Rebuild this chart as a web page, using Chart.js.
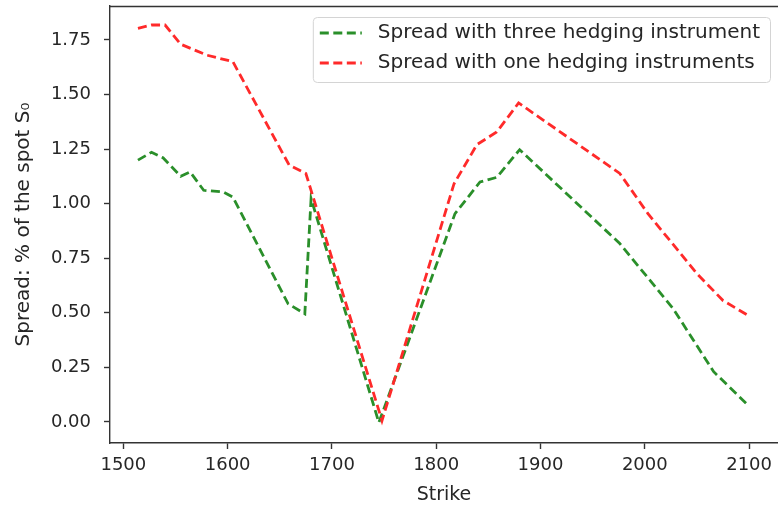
<!DOCTYPE html>
<html><head><meta charset="utf-8">
<script src="https://cdn.jsdelivr.net/npm/chart.js@4.4.0/dist/chart.umd.min.js"></script>
<style>html,body{margin:0;padding:0;background:#fff;}#wrap{width:778px;height:509px;position:relative;}</style>
</head><body><div id="wrap"><canvas id="c"></canvas></div>
<script>
// ---- data ----
const strikesThree = [1514, 1527, 1538, 1555, 1564, 1577, 1596, 1605, 1658, 1674, 1680, 1745, 1818, 1842, 1858, 1880, 1976, 2027, 2066, 2100];
const spreadThree  = [1.199, 1.235, 1.21, 1.125, 1.145, 1.061, 1.053, 1.03, 0.541, 0.495, 1.023, -0.003, 0.954, 1.099, 1.12, 1.247, 0.817, 0.52, 0.23, 0.072];
const strikesOne   = [1514, 1527, 1540, 1555, 1580, 1605, 1659, 1675, 1748, 1817, 1839, 1858, 1879, 1976, 2003, 2050, 2075, 2100];
const spreadOne    = [1.803, 1.818, 1.818, 1.73, 1.68, 1.65, 1.176, 1.138, 0.006, 1.09, 1.27, 1.328, 1.461, 1.138, 0.954, 0.679, 0.556, 0.485];
const xTicks = [1500, 1600, 1700, 1800, 1900, 2000, 2100];
const yTicks = [0, 0.25, 0.5, 0.75, 1.0, 1.25, 1.5, 1.75];
const seriesLabels = ['Spread with three hedging instrument', 'Spread with one hedging instruments'];
const xTitle = 'Strike';
const yTitle = 'Spread: % of the spot S\u2080';

const FONT = '"DejaVu Sans", "Liberation Sans", sans-serif';
const SPINE = '#333333';
const TEXT = '#262626';
const GREEN = '#2a8f2a';
const RED = '#ff2a2a';
const DASH = [9, 4.5];

const spinePlugin = {
  id: 'topSpine',
  afterDraw(chart) {
    const {ctx, chartArea: a} = chart;
    ctx.save();
    ctx.strokeStyle = SPINE; ctx.lineWidth = 1.4;
    ctx.beginPath(); ctx.moveTo(a.left, a.top + 0.5); ctx.lineTo(a.right, a.top + 0.5); ctx.stroke();
    ctx.restore();
  }
};

const legendPlugin = {
  id: 'boxLegend',
  afterDatasetsDraw(chart) {
    const {ctx, chartArea: a} = chart;
    const ds = chart.data.datasets;
    ctx.save();
    ctx.font = '20px ' + FONT;
    const tw = Math.max(...ds.map(d => ctx.measureText(d.label).width));
    const right = a.right - 8, top = a.top + 11;
    const padL = 7, lineLen = 42, gap = 16, padR = 10;
    const w = padL + lineLen + gap + tw + padR, h = 65;
    const left = right - w;
    ctx.beginPath();
    ctx.roundRect(left + 0.5, top + 0.5, w, h, 4);
    ctx.fillStyle = 'rgba(255,255,255,0.8)'; ctx.fill();
    ctx.strokeStyle = '#d4d4d4'; ctx.lineWidth = 1; ctx.stroke();
    ds.forEach((d, i) => {
      const y = top + 16 + i * 30;
      ctx.beginPath();
      ctx.setLineDash(DASH);
      ctx.strokeStyle = d.borderColor; ctx.lineWidth = 2.8;
      ctx.moveTo(left + padL, y); ctx.lineTo(left + padL + lineLen, y); ctx.stroke();
      ctx.setLineDash([]);
      ctx.fillStyle = TEXT; ctx.textBaseline = 'middle'; ctx.textAlign = 'left';
      ctx.fillText(d.label, left + padL + lineLen + gap, y);
    });
    ctx.restore();
  }
};

new Chart(document.getElementById('c'), {
  type: 'line',
  data: {
    datasets: [
      { label: seriesLabels[0], data: strikesThree.map((x, i) => ({x, y: spreadThree[i]})),
        borderColor: GREEN, borderWidth: 2.8, borderDash: DASH, pointRadius: 0, fill: false, tension: 0, order: 1 },
      { label: seriesLabels[1], data: strikesOne.map((x, i) => ({x, y: spreadOne[i]})),
        borderColor: RED, borderWidth: 2.8, borderDash: DASH, pointRadius: 0, fill: false, tension: 0, order: 0 }
    ]
  },
  options: {
    responsive: true, maintainAspectRatio: false, animation: false, devicePixelRatio: 1,
    layout: { padding: { top: 6, left: 0, right: 0, bottom: 0 } },
    plugins: { legend: { display: false }, tooltip: { enabled: false } },
    scales: {
      x: {
        type: 'linear', min: 1487.2, max: 2127.7,
        afterBuildTicks: s => { s.ticks = xTicks.map(v => ({value: v})); },
        afterFit: s => { s.height = 66; s.paddingLeft = 0; s.paddingRight = 0; },
        ticks: { font: { family: FONT, size: 18 }, color: TEXT, padding: 6, maxRotation: 0, callback: v => String(v) },
        grid: { display: true, drawOnChartArea: false, drawTicks: true, tickLength: 6, tickWidth: 1.4, tickColor: SPINE },
        border: { display: true, color: SPINE, width: 1.4 },
        title: { display: true, text: xTitle, font: { family: FONT, size: 19 }, color: TEXT, padding: { top: 0, bottom: 3 } }
      },
      y: {
        type: 'linear', min: -0.0965, max: 1.905,
        afterBuildTicks: s => { s.ticks = yTicks.map(v => ({value: v})); },
        afterFit: s => { s.width = 110; s.paddingTop = 0; s.paddingBottom = 0; },
        ticks: { font: { family: FONT, size: 18 }, color: TEXT, padding: 13, callback: v => Number(v).toFixed(2) },
        grid: { display: true, drawOnChartArea: false, drawTicks: true, tickLength: 6, tickWidth: 1.4, tickColor: SPINE },
        border: { display: true, color: SPINE, width: 1.4 },
        title: { display: true, text: yTitle, font: { family: FONT, size: 20 }, color: TEXT, padding: { top: 12, bottom: 0 } }
      }
    }
  },
  plugins: [spinePlugin, legendPlugin]
});
</script></body></html>
